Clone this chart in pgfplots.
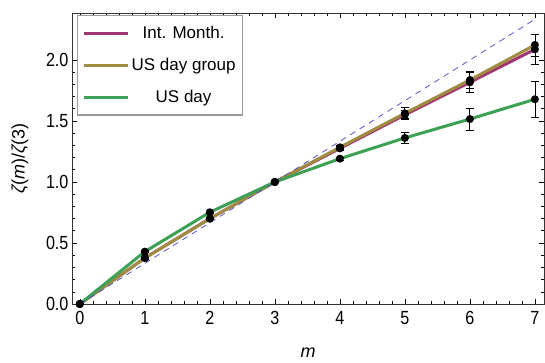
\documentclass[border=0pt]{standalone}
\usepackage{fontspec}
\setmainfont{Liberation Sans}
\newfontfamily\tickfont{Liberation Sans}[FakeStretch=0.85]
\usepackage{pgfplots}
\pgfplotsset{compat=1.18}
\definecolor{cpurple}{RGB}{160,55,115}
\definecolor{colive}{RGB}{160,140,65}
\definecolor{cgreen}{RGB}{60,160,85}
\definecolor{cdash}{RGB}{85,85,200}
\begin{document}
\begin{tikzpicture}
\begin{axis}[
  scale only axis, width=472pt, height=291pt,
  xmin=-0.12, xmax=7.14, ymin=0, ymax=2.385,
  xtick={0,1,...,7}, ytick={0,0.5,1,1.5,2},
  minor x tick num=4, minor y tick num=4,
  tick align=inside, major tick length=5pt, minor tick length=3pt,
  tick style={black, line width=0.6pt},
  axis line style={black!80, line width=0.8pt},
  /pgf/number format/assume math mode=true,
  yticklabel style={/pgf/number format/.cd, fixed, fixed zerofill, precision=1},
  xticklabel style={yshift=-4pt},
  ticklabel style={font=\tickfont\fontsize{19}{20}\selectfont},
  xlabel={\itshape m},
  ylabel={{\itshape ζ}(\textit{m})/{\itshape ζ}(3)},
  label style={font=\fontsize{18}{20}\selectfont},
  xlabel style={at={(axis description cs:0.5,0)}, anchor=center, yshift=-49pt},
  ylabel style={at={(axis description cs:-0.110,0.5)}, anchor=center},
  legend style={at={(0.0106,0.993)}, anchor=north west, draw=gray!80, line width=1.2pt,
    font=\fontsize{17}{18}\selectfont, row sep=14pt, inner xsep=5pt, inner ysep=9pt},
  legend cell align=center,
  legend image code/.code={\draw[#1, line width=3pt] (0pt,0pt) -- (30pt,0pt);
    \path (0pt,0pt) -- (44pt,0pt);},
  error bars/error bar style={black, line width=0.8pt},
  error bars/error mark options={rotate=90, mark size=4pt, black, line width=0.8pt},
]
\addplot[cpurple, line width=3pt, mark=*, mark size=2.4pt, mark options={black, fill=black},
  error bars/.cd, y dir=both, y explicit]
  coordinates {(0,0) +- (0,0) (1,0.377) +- (0,0.008) (2,0.70) +- (0,0.01) (3,1.0) +- (0,0)
  (4,1.275) +- (0,0.015) (5,1.55) +- (0,0.04) (6,1.817) +- (0,0.08) (7,2.087) +- (0,0.12)};
\addlegendentry{Int. Month.}
\addplot[colive, line width=3pt, mark=*, mark size=2.4pt, mark options={black, fill=black},
  error bars/.cd, y dir=both, y explicit]
  coordinates {(0,0) +- (0,0) (1,0.377) +- (0,0.008) (2,0.70) +- (0,0.01) (3,1.0) +- (0,0)
  (4,1.284) +- (0,0.015) (5,1.563) +- (0,0.045) (6,1.836) +- (0,0.07) (7,2.123) +- (0,0.09)};
\addlegendentry{US day group}
\addplot[cgreen, line width=3pt, mark=*, mark size=2.4pt, mark options={black, fill=black},
  error bars/.cd, y dir=both, y explicit]
  coordinates {(0,0) +- (0,0) (1,0.429) +- (0,0.008) (2,0.752) +- (0,0.01) (3,1.0) +- (0,0)
  (4,1.191) +- (0,0.012) (5,1.361) +- (0,0.045) (6,1.516) +- (0,0.09) (7,1.678) +- (0,0.15)};
\addlegendentry{US day}
\addplot[cdash, line width=0.8pt, dash pattern=on 6pt off 5pt, forget plot]
  coordinates {(0,0) (7,2.3333)};
\end{axis}
\pgfresetboundingbox
\path ([shift={(-72pt,-58pt)}]current axis.south west) rectangle ([shift={(1pt,13pt)}]current axis.north east);
\end{tikzpicture}
\end{document}
